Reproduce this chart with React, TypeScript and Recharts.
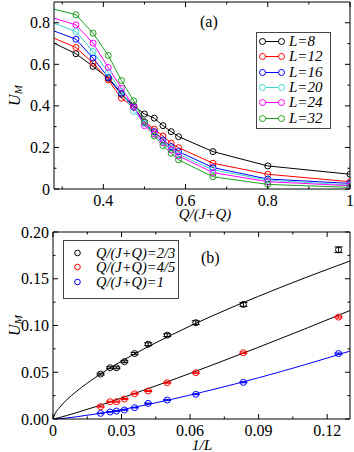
import React from 'react';
import { LineChart, Line, XAxis, YAxis, Legend, ErrorBar } from 'recharts';

const FONT = 'Liberation Serif, Times New Roman, serif';

// ---- panel (a): U_M against Q/(J+Q) for several L ----
const qRatio = [0.25, 0.3333, 0.375, 0.412, 0.444, 0.474, 0.5, 0.524, 0.545, 0.565, 0.583, 0.6667, 0.8, 1.0];
const uL8 = [0.731, 0.651, 0.590, 0.533, 0.456, 0.400, 0.361, 0.341, 0.305, 0.276, 0.252, 0.180, 0.111, 0.071];
const uL12 = [0.751, 0.681, 0.606, 0.525, 0.437, 0.394, 0.324, 0.288, 0.255, 0.220, 0.199, 0.124, 0.071, 0.035];
const uL16 = [0.783, 0.721, 0.630, 0.537, 0.461, 0.394, 0.320, 0.276, 0.236, 0.204, 0.180, 0.103, 0.048, 0.027];
const uL20 = [0.820, 0.758, 0.662, 0.561, 0.469, 0.373, 0.316, 0.263, 0.228, 0.196, 0.167, 0.092, 0.043, 0.019];
const uL24 = [0.840, 0.790, 0.702, 0.585, 0.485, 0.397, 0.305, 0.265, 0.223, 0.188, 0.159, 0.079, 0.035, 0.016];
const uL32 = [0.881, 0.839, 0.750, 0.643, 0.522, 0.424, 0.324, 0.255, 0.209, 0.172, 0.140, 0.059, 0.022, 0.008];

const seriesA = [
  { key: 'L8', name: 'L=8', color: '#000000', values: uL8 },
  { key: 'L12', name: 'L=12', color: '#ff0000', values: uL12 },
  { key: 'L16', name: 'L=16', color: '#0000ff', values: uL16 },
  { key: 'L20', name: 'L=20', color: '#40d8d0', values: uL20 },
  { key: 'L24', name: 'L=24', color: '#ff00ff', values: uL24 },
  { key: 'L32', name: 'L=32', color: '#1e9e1e', values: uL32 },
];

const rowsA = qRatio.map((x, i) => {
  const row: Record<string, number> = { x };
  seriesA.forEach((s) => { row[s.key] = s.values[i]; });
  return row;
});

const xTicksA = [0.3, 0.4, 0.5, 0.6, 0.7, 0.8, 0.9, 1.0];
const xMajorA = [0.4, 0.6, 0.8, 1.0];
const yTicksA = [0, 0.1, 0.2, 0.3, 0.4, 0.5, 0.6, 0.7, 0.8];
const yMajorA = [0, 0.2, 0.4, 0.6, 0.8];

// ---- panel (b): U_M against 1/L ----
const invL = [0.02083, 0.025, 0.02778, 0.03125, 0.03571, 0.04167, 0.05, 0.0625, 0.08333, 0.125];
const u23 = [0.048, 0.0548, 0.0548, 0.0613, 0.070, 0.080, 0.0897, 0.103, 0.1225, 0.181];
const e23 = [0.001, 0.001, 0.001, 0.001, 0.0012, 0.0015, 0.0015, 0.002, 0.002, 0.003];
const u45 = [0.0132, 0.0185, 0.0185, 0.0214, 0.027, 0.030, 0.0388, 0.0495, 0.0709, 0.109];
const e45 = [0.0005, 0.0005, 0.0005, 0.0005, 0.0005, 0.0006, 0.0006, 0.0007, 0.0008, 0.001];
const u1 = [0.006, 0.0075, 0.0085, 0.0096, 0.0121, 0.0167, 0.0203, 0.0264, 0.0392, 0.070];
const e1 = [0.0003, 0.0003, 0.0003, 0.0003, 0.0003, 0.0003, 0.0004, 0.0004, 0.0005, 0.0006];

// fitted curves
const fitX = [0, 0.001, 0.003, 0.006, 0.01, 0.02, 0.035, 0.05, 0.07, 0.09, 0.11, 0.13];
const fit23 = [0, 0.0060, 0.0127, 0.0205, 0.029, 0.0468, 0.0687, 0.0877, 0.1106, 0.1313, 0.1507, 0.169];
const fit45 = [0, 0.0005, 0.0017, 0.0037, 0.0066, 0.0142, 0.0267, 0.0398, 0.058, 0.0768, 0.0961, 0.116];
const fit1 = [0, 0.0001, 0.0004, 0.0011, 0.0023, 0.0058, 0.0123, 0.020, 0.0315, 0.0441, 0.0579, 0.0726];

const seriesB = [
  { key: 'q23', name: 'Q/(J+Q)=2/3', color: '#000000', fitColor: '#000000', values: u23, errs: e23, fit: fit23 },
  { key: 'q45', name: 'Q/(J+Q)=4/5', color: '#ff0000', fitColor: '#000000', values: u45, errs: e45, fit: fit45 },
  { key: 'q1', name: 'Q/(J+Q)=1', color: '#0000ff', fitColor: '#0000ff', values: u1, errs: e1, fit: fit1 },
];

const xTicksB = [0, 0.015, 0.03, 0.045, 0.06, 0.075, 0.09, 0.105, 0.12];
const xMajorB = [0, 0.03, 0.06, 0.09, 0.12];
const yTicksB = [0, 0.025, 0.05, 0.075, 0.1, 0.125, 0.15, 0.175, 0.2];
const yMajorB = [0, 0.05, 0.1, 0.15, 0.2];

const isMajor = (list: number[], v: number) => list.some((m) => Math.abs(m - v) < 1e-9);

// inward ticks, labels only on the bottom / left axes
function makeTick(side: string, majors: number[], fmt?: (v: number) => string) {
  return (props: any) => {
    const { x, y, payload } = props;
    const v = payload.value;
    const major = isMajor(majors, v);
    const len = major ? 5 : 2.5;
    let line;
    if (side === 'bottom') line = <line x1={x} y1={y} x2={x} y2={y - len} stroke="#000" />;
    else if (side === 'top') line = <line x1={x} y1={y} x2={x} y2={y + len} stroke="#000" />;
    else if (side === 'left') line = <line x1={x} y1={y} x2={x + len} y2={y} stroke="#000" />;
    else line = <line x1={x} y1={y} x2={x - len} y2={y} stroke="#000" />;
    let text = null;
    if (major && fmt && side === 'bottom') {
      text = <text x={x} y={y + 16.5} textAnchor="middle" fontSize={16} fontFamily={FONT} fill="#000">{fmt(v)}</text>;
    }
    if (major && fmt && side === 'left') {
      text = <text x={x - 4} y={y + 5.5} textAnchor="end" fontSize={16} fontFamily={FONT} fill="#000">{fmt(v)}</text>;
    }
    return <g>{line}{text}</g>;
  };
}

const legendBox: React.CSSProperties = {
  position: 'relative',
  border: '1.5px solid #444',
  boxSizing: 'border-box',
  background: '#fff',
  fontFamily: FONT,
  fontStyle: 'italic',
  color: '#000',
};

const legendA = () => (
  <div style={{ ...legendBox, width: 75, height: 97, fontSize: 15 }}>
    {seriesA.map((s, i) => {
      const cy = 8.5 + i * 15.3;
      return (
        <div key={s.key} style={{ position: 'absolute', left: 0, top: cy - 7.5, height: 15, lineHeight: '15px', whiteSpace: 'nowrap' }}>
          <svg width={30} height={15} style={{ position: 'absolute', left: 0, top: 0 }}>
            <line x1={5.5} x2={24.5} y1={7.5} y2={7.5} stroke={s.color} />
            <circle cx={5.5} cy={7.5} r={3} fill="#fff" stroke={s.color} />
            <circle cx={24.5} cy={7.5} r={3} fill="#fff" stroke={s.color} />
          </svg>
          <span style={{ position: 'absolute', left: 32, top: 0 }}>{s.name}</span>
        </div>
      );
    })}
  </div>
);

const legendB = () => (
  <div style={{ ...legendBox, width: 116, height: 59, fontSize: 14.5 }}>
    {seriesB.map((s, i) => {
      const cy = 11.5 + i * 14.5;
      return (
        <div key={s.key} style={{ position: 'absolute', left: 0, top: cy - 7, height: 14, lineHeight: '14px', whiteSpace: 'nowrap' }}>
          <svg width={20} height={14} style={{ position: 'absolute', left: 0, top: 0 }}>
            <circle cx={13.5} cy={7} r={2.8} fill="none" stroke={s.color} />
          </svg>
          <span style={{ position: 'absolute', left: 32, top: 0 }}>{s.name}</span>
        </div>
      );
    })}
  </div>
);

const fmtA = (v: number) => (v === 0 ? '0' : v === 1 ? '1' : v.toFixed(1));
const fmtBx = (v: number) => (v === 0 ? '0' : v.toFixed(2));
const fmtBy = (v: number) => v.toFixed(2);

const overlayText: React.CSSProperties = {
  position: 'absolute',
  fontFamily: FONT,
  fontSize: 16,
  lineHeight: '12px',
  color: '#000',
  whiteSpace: 'nowrap',
};

const axisCommon = { tickSize: 0, tickMargin: 0, tickLine: false, interval: 0 as const, allowDataOverflow: true, axisLine: { stroke: '#000' } };

const YTitle = ({ cx, cy }: { cx: number; cy: number }) => (
  <div style={{ ...overlayText, left: cx - 20, top: cy - 6, width: 40, textAlign: 'center', transform: 'rotate(-90deg)', fontStyle: 'italic' }}>
    U<span style={{ fontSize: 11, position: 'relative', top: 2 }}>M</span>
  </div>
);

export default function App() {
  return (
    <div style={{ position: 'absolute', left: 0, top: 0, width: 354, height: 452, background: '#fff', fontFamily: FONT }}>
      <div style={{ position: 'absolute', left: 0, top: 0 }}>
        <LineChart width={354} height={225} data={rowsA} margin={{ top: 1, right: 3, bottom: 35, left: 53 }}>
          <XAxis dataKey="x" type="number" domain={[0.28, 1]} ticks={xTicksA} height={1} {...axisCommon}
            tick={makeTick('bottom', xMajorA, fmtA)} />
          <XAxis xAxisId="top" dataKey="x" orientation="top" type="number" domain={[0.28, 1]} ticks={xTicksA} height={1} {...axisCommon}
            tick={makeTick('top', xMajorA)} />
          <YAxis type="number" domain={[0, 0.9]} ticks={yTicksA} width={1} {...axisCommon}
            tick={makeTick('left', yMajorA, fmtA)} />
          <YAxis yAxisId="right" orientation="right" type="number" domain={[0, 0.9]} ticks={yTicksA} width={1} {...axisCommon}
            tick={makeTick('right', yMajorA)} />
          <Legend layout="vertical" align="center" verticalAlign="middle" content={legendA}
            wrapperStyle={{ left: 256, top: 32, width: 75, height: 97 }} />
          {/* invisible series that ties the mirror axes to the data */}
          <Line xAxisId="top" yAxisId="right" dataKey="L8" stroke="none" dot={false} legendType="none" isAnimationActive={false} />
          {seriesA.map((s) => (
            <Line key={s.key} dataKey={s.key} name={s.name} type="linear" stroke={s.color} strokeWidth={1}
              dot={{ r: 3, stroke: s.color, strokeWidth: 1, fill: 'none' }} isAnimationActive={false} />
          ))}
        </LineChart>
        <div style={{ ...overlayText, left: 200, top: 16 }}>(a)</div>
        <div style={{ ...overlayText, left: 205 - 40, top: 208, width: 80, textAlign: 'center', fontStyle: 'italic', fontSize: 15 }}>Q/(J+Q)</div>
        <YTitle cx={15} cy={95} />
      </div>

      <div style={{ position: 'absolute', left: 0, top: 225 }}>
        <LineChart width={354} height={227} margin={{ top: 6, right: 3, bottom: 32, left: 52 }}>
          <XAxis dataKey="x" type="number" domain={[0, 0.13]} ticks={xTicksB} height={1} {...axisCommon}
            tick={makeTick('bottom', xMajorB, fmtBx)} />
          <XAxis xAxisId="top" dataKey="x" orientation="top" type="number" domain={[0, 0.13]} ticks={xTicksB} height={1} {...axisCommon}
            tick={makeTick('top', xMajorB)} />
          <YAxis type="number" domain={[0, 0.2]} ticks={yTicksB} width={1} {...axisCommon}
            tick={makeTick('left', yMajorB, fmtBy)} />
          <YAxis yAxisId="right" orientation="right" type="number" domain={[0, 0.2]} ticks={yTicksB} width={1} {...axisCommon}
            tick={makeTick('right', yMajorB)} />
          <Legend layout="vertical" align="center" verticalAlign="middle" content={legendB}
            wrapperStyle={{ left: 63, top: 15, width: 116, height: 59 }} />
          {/* invisible series that ties the mirror axes to the data */}
          <Line xAxisId="top" yAxisId="right" data={fitX.map((x, i) => ({ x, y: fit23[i] }))} dataKey="y"
            stroke="none" dot={false} legendType="none" isAnimationActive={false} />
          {seriesB.map((s) => (
            <Line key={`fit-${s.key}`} data={fitX.map((x, i) => ({ x, y: s.fit[i] }))} dataKey="y" type="monotone"
              stroke={s.fitColor} strokeWidth={1} dot={false} legendType="none" isAnimationActive={false} />
          ))}
          {seriesB.map((s) => (
            <Line key={s.key} name={s.name} data={invL.map((x, i) => ({ x, y: s.values[i], err: s.errs[i] }))} dataKey="y"
              stroke="none" dot={{ r: 3, stroke: s.color, strokeWidth: 1, fill: 'none' }} isAnimationActive={false}>
              <ErrorBar dataKey="err" direction="y" width={4} stroke={s.color} strokeWidth={1} />
            </Line>
          ))}
        </LineChart>
        <div style={{ ...overlayText, left: 202 - 30, top: 214, width: 60, textAlign: 'center', fontStyle: 'italic', fontSize: 15.5 }}>1/L</div>
        <div style={{ ...overlayText, left: 201, top: 27 }}>(b)</div>
        <YTitle cx={15} cy={100} />
      </div>
    </div>
  );
}
